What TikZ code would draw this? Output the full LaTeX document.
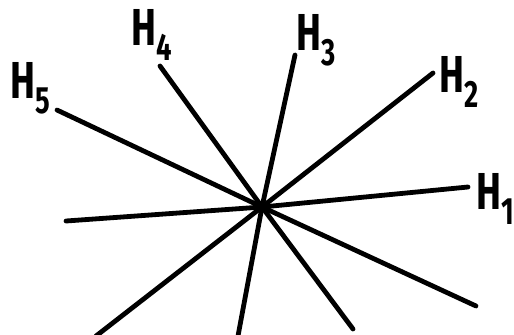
\documentclass[tikz,border=0pt]{standalone}
\usepackage{fontspec}
\setmainfont{Fira Sans}
\newcommand{\hlab}[1]{\scalebox{0.72}[1]{\fontsize{26}{26}\selectfont\bfseries H\raisebox{-0.55ex}{\fontsize{19}{19}\selectfont #1}}}
\begin{document}
\begin{tikzpicture}[x=0.5pt,y=-0.5pt,
  ray/.style={line width=2.4pt,line cap=round,black},
  lab/.style={inner sep=0pt,anchor=west}]
\useasboundingbox (0,0) rectangle (514,334);
\coordinate (c) at (262,207);
\coordinate (a1) at (66,221);  \coordinate (b1) at (468,187);
\coordinate (a2) at (96,336);  \coordinate (b2) at (433,73);
\coordinate (a3) at (238,336); \coordinate (b3) at (295,55);
\coordinate (a4) at (353,329); \coordinate (b4) at (160,66);
\coordinate (a5) at (476,306); \coordinate (b5) at (57,110);
\draw[ray] (a1) -- (c) -- (b1);
\draw[ray] (a2) -- (c) -- (b2);
\draw[ray] (a3) -- (c) -- (b3);
\draw[ray] (a4) -- (c) -- (b4);
\draw[ray] (a5) -- (c) -- (b5);
\node[lab] (h1) at (476,199) {\hlab{1}};
\node[lab] (h2) at (439,82) {\hlab{2}};
\node[lab] (h3) at (296,40) {\hlab{3}};
\node[lab] (h4) at (131,35) {\hlab{4}};
\node[lab] (h5) at (10,88) {\hlab{5}};
\end{tikzpicture}
\end{document}
